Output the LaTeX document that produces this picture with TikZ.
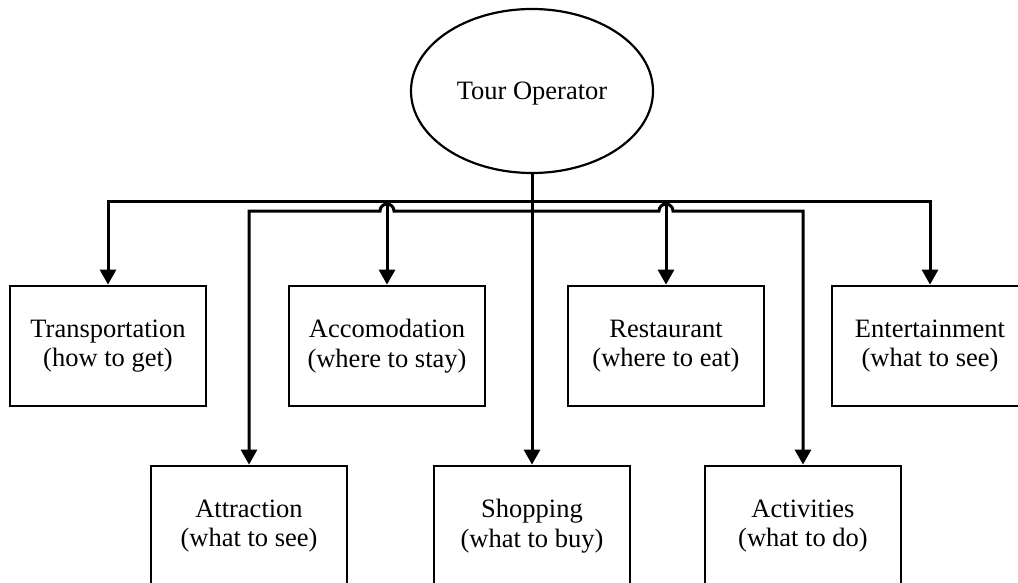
\documentclass[tikz,border=0pt]{standalone}
\usepackage{fontspec}
\setmainfont{Liberation Serif}
\usetikzlibrary{shapes.geometric,arrows.meta}
\begin{document}
\begin{tikzpicture}[x=1pt,y=1pt,
  box/.style={draw,line width=2.8pt,minimum width=196pt,minimum height=120pt,inner sep=0pt,align=center,font=\fontsize{26.5}{29.5}\selectfont},
  oval/.style={draw,ellipse,line width=2.2pt,minimum width=242pt,minimum height=164pt,inner sep=0pt,text depth=0pt,font=\fontsize{26.5}{29.5}\selectfont},
  conn/.style={line width=3pt,-{Triangle[length=15pt,width=16pt]}}]
\useasboundingbox (0,0) rectangle (1018,-583);
\clip (0,0) rectangle (1018,-583);
\fill[white] (0,0) rectangle (1018,-583);
\node[oval] (op) at (532,-91) {Tour Operator};
\node[box] (trans) at (108,-346) {Transportation\\(how to get)};
\node[box] (acc) at (387,-346) {Accomodation\\(where to stay)};
\node[box] (rest) at (666,-346) {Restaurant\\(where to eat)};
\node[box] (ent) at (930,-346) {Entertainment\\(what to see)};
\node[box] (attr) at (249,-526) {Attraction\\(what to see)};
\node[box] (shop) at (532,-526) {Shopping\\(what to buy)};
\node[box] (act) at (803,-526) {Activities\\(what to do)};
\coordinate (bus) at (532,-202);
\coordinate (bus2) at (532,-211);
% main vertical
\draw[conn] (op.south) -- (shop.north);
% upper bus
\draw[conn] (bus) -| (trans.north);
\draw[conn] (bus) -| (acc.north);
\draw[conn] (bus) -| (rest.north);
\draw[conn] (bus) -| (ent.north);
% lower bus with hops
\draw[conn] (bus2) -- (394,-211) arc (0:180:7) -- (attr.north |- bus2) -- (attr.north);
\draw[conn] (bus2) -- (659,-211) arc (180:0:7) -- (act.north |- bus2) -- (act.north);
\end{tikzpicture}
\end{document}
